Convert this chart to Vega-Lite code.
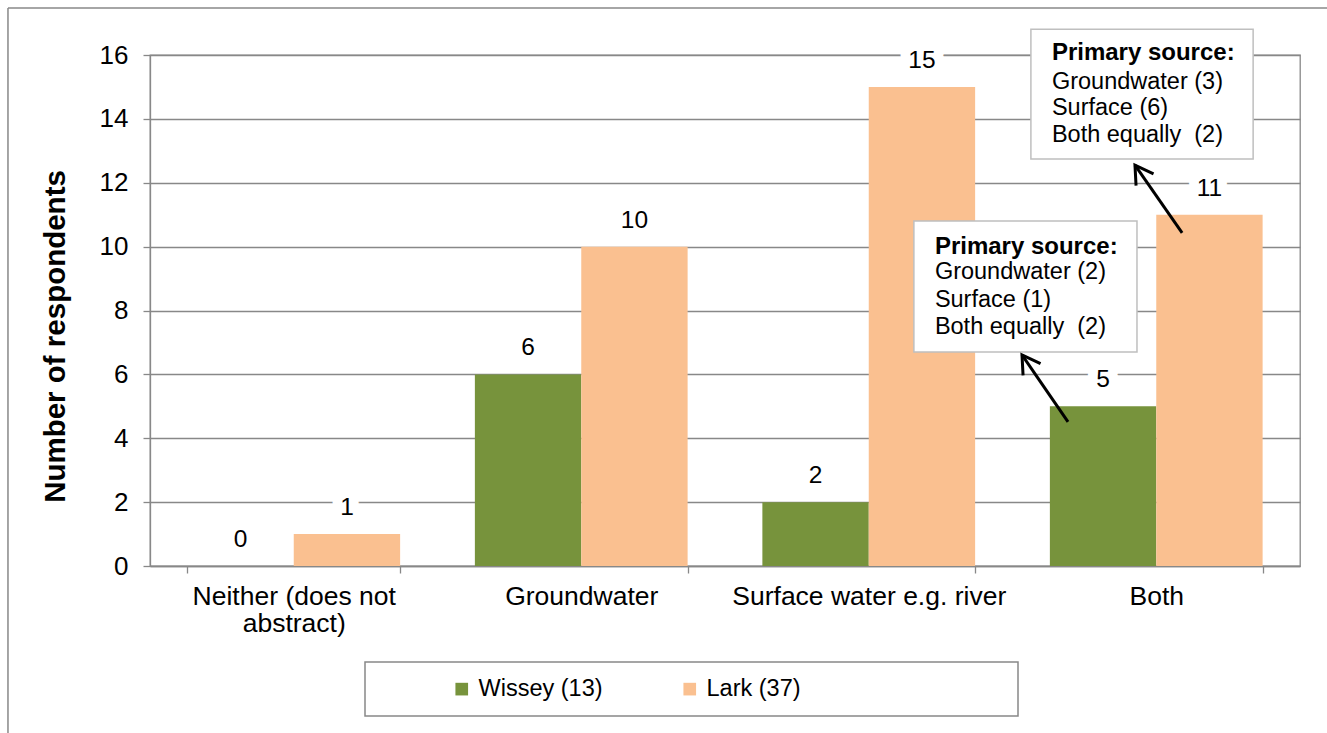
{
  "$schema": "https://vega.github.io/schema/vega-lite/v6.json",
  "width": 1150,
  "height": 511,
  "autosize": {"type": "none"},
  "padding": {"left": 150, "top": 55, "right": 27, "bottom": 167},
  "config": {
    "font": "Liberation Sans",
    "view": {"stroke": "#888888", "strokeWidth": 1.3},
    "axis": {
      "domainColor": "#888888", "tickColor": "#888888", "gridColor": "#888888",
      "domainWidth": 1.3, "tickWidth": 1.3, "gridWidth": 1.3,
      "labelColor": "#000000", "titleColor": "#000000",
      "labelFont": "Liberation Sans", "titleFont": "Liberation Sans"
    },
    "axisY": {
      "tickSize": 7, "labelFontSize": 26, "labelPadding": 15,
      "titleFontSize": 29.5, "titleFontWeight": "bold",
      "titleX": -95, "titleY": 281, "titleAngle": -90,
      "titleBaseline": "middle", "titleAlign": "center"
    },
    "legend": {
      "orient": "none", "legendX": 215, "legendY": 607, "direction": "horizontal",
      "strokeColor": "#888888", "strokeWidth": 1.5, "fillColor": "white",
      "padding": 15, "symbolType": "square", "symbolSize": 160, "symbolStrokeWidth": 0,
      "symbolOffset": 70, "labelFontSize": 23.5, "labelOffset": 5, "columnPadding": 5,
      "labelColor": "#000000", "labelFont": "Liberation Sans", "labelLimit": 600
    }
  },
  "datasets": {
    "bars": [
      {"source": "Neither (does not abstract)", "river": "Wissey (13)", "count": 0},
      {"source": "Neither (does not abstract)", "river": "Lark (37)", "count": 1},
      {"source": "Groundwater", "river": "Wissey (13)", "count": 6},
      {"source": "Groundwater", "river": "Lark (37)", "count": 10},
      {"source": "Surface water e.g. river", "river": "Wissey (13)", "count": 2},
      {"source": "Surface water e.g. river", "river": "Lark (37)", "count": 15},
      {"source": "Both", "river": "Wissey (13)", "count": 5},
      {"source": "Both", "river": "Lark (37)", "count": 11}
    ],
    "frame": [
      {"x": -0.494, "x2": -0.494, "y": 17.47, "y2": -5.6},
      {"x": -0.494, "x2": 4.2, "y": 17.47, "y2": 17.47}
    ],
    "boxes": [
      {"x": 3.064, "x2": 3.837, "y": 16.81, "y2": 12.74},
      {"x": 2.657, "x2": 3.433, "y": 10.80, "y2": 6.70}
    ],
    "headers": [
      {"x": 3.137, "y": 16.06, "text": "Primary source:"},
      {"x": 2.730, "y": 9.99, "text": "Primary source:"}
    ],
    "lines": [
      {"x": 3.137, "y": 15.15, "text": "Groundwater (3)"},
      {"x": 3.137, "y": 14.34, "text": "Surface (6)"},
      {"x": 3.137, "y": 13.49, "text": "Both equally\u00a0 (2)"},
      {"x": 2.730, "y": 9.20, "text": "Groundwater (2)"},
      {"x": 2.730, "y": 8.33, "text": "Surface (1)"},
      {"x": 2.730, "y": 7.48, "text": "Both equally\u00a0 (2)"}
    ],
    "arrows": [
      {"arrow": "a", "x": 3.590, "y": 10.43},
      {"arrow": "a", "x": 3.426, "y": 12.55},
      {"arrow": "b", "x": 3.193, "y": 4.51},
      {"arrow": "b", "x": 3.033, "y": 6.61}
    ],
    "heads": [
      {"x": 3.426, "y": 12.55},
      {"x": 3.033, "y": 6.61}
    ]
  },
  "layer": [
    {
      "data": {"name": "bars"},
      "encoding": {
        "x": {
          "field": "source", "type": "nominal", "title": null,
          "sort": ["Neither (does not abstract)", "Groundwater", "Surface water e.g. river", "Both"],
          "scale": {"paddingInner": 0.26, "paddingOuter": 0.13},
          "axis": {
            "labelAngle": 0, "tickBand": "extent", "tickSize": 7, "labelFontSize": 26.5,
            "labelPadding": 10, "labelLineHeight": 27, "labelLimit": 500, "grid": false,
            "labelExpr": "datum.label == 'Neither (does not abstract)' ? ['Neither (does not', 'abstract)'] : datum.label"
          }
        },
        "xOffset": {"field": "river", "type": "nominal", "sort": ["Wissey (13)", "Lark (37)"]},
        "y": {
          "field": "count", "type": "quantitative", "title": "Number of respondents",
          "scale": {"domain": [0, 16], "nice": false},
          "axis": {"values": [0, 2, 4, 6, 8, 10, 12, 14, 16], "grid": true}
        }
      },
      "layer": [
        {
          "mark": {"type": "bar"},
          "encoding": {
            "color": {
              "field": "river", "type": "nominal",
              "scale": {"domain": ["Wissey (13)", "Lark (37)"], "range": ["#77933C", "#FAC090"]},
              "legend": {
                "title": null,
                "labelExpr": "datum.label == 'Lark (37)' ? 'Lark (37)' + '                               \u200b' : datum.label"
              }
            }
          }
        },
        {
          "mark": {"type": "text", "fontSize": 24.5, "baseline": "alphabetic", "dy": -19,
                   "stroke": "white", "strokeWidth": 20, "strokeJoin": "round", "fill": "white"},
          "encoding": {"text": {"field": "count", "type": "quantitative"}}
        },
        {
          "mark": {"type": "text", "fontSize": 24.5, "baseline": "alphabetic", "dy": -19, "color": "#000000"},
          "encoding": {"text": {"field": "count", "type": "quantitative"}}
        }
      ]
    },
    {
      "layer": [
        {
          "data": {"name": "frame"},
          "mark": {"type": "rule", "color": "#888888", "strokeWidth": 1.5},
          "encoding": {
            "x": {"field": "x", "type": "quantitative", "scale": {"domain": [0, 4], "nice": false, "zero": false}, "axis": null},
            "x2": {"field": "x2"},
            "y": {"field": "y", "type": "quantitative", "title": "Number of respondents", "scale": {"domain": [0, 16], "nice": false}},
            "y2": {"field": "y2"}
          }
        },
        {
          "data": {"name": "boxes"},
          "mark": {"type": "rect", "fill": "white", "stroke": "#BFBFBF", "strokeWidth": 1.5},
          "encoding": {
            "x": {"field": "x", "type": "quantitative", "scale": {"domain": [0, 4], "nice": false, "zero": false}, "axis": null},
            "x2": {"field": "x2"},
            "y": {"field": "y", "type": "quantitative", "title": "Number of respondents", "scale": {"domain": [0, 16], "nice": false}},
            "y2": {"field": "y2"}
          }
        },
        {
          "data": {"name": "headers"},
          "mark": {"type": "text", "align": "left", "baseline": "middle", "fontSize": 24, "fontWeight": "bold", "color": "#000000"},
          "encoding": {
            "x": {"field": "x", "type": "quantitative", "scale": {"domain": [0, 4], "nice": false, "zero": false}, "axis": null},
            "y": {"field": "y", "type": "quantitative", "title": "Number of respondents", "scale": {"domain": [0, 16], "nice": false}},
            "text": {"field": "text", "type": "nominal"}
          }
        },
        {
          "data": {"name": "lines"},
          "mark": {"type": "text", "align": "left", "baseline": "middle", "fontSize": 23.5, "color": "#000000"},
          "encoding": {
            "x": {"field": "x", "type": "quantitative", "scale": {"domain": [0, 4], "nice": false, "zero": false}, "axis": null},
            "y": {"field": "y", "type": "quantitative", "title": "Number of respondents", "scale": {"domain": [0, 16], "nice": false}},
            "text": {"field": "text", "type": "nominal"}
          }
        },
        {
          "data": {"name": "arrows"},
          "mark": {"type": "line", "color": "#000000", "strokeWidth": 3},
          "encoding": {
            "x": {"field": "x", "type": "quantitative", "scale": {"domain": [0, 4], "nice": false, "zero": false}, "axis": null},
            "y": {"field": "y", "type": "quantitative", "title": "Number of respondents", "scale": {"domain": [0, 16], "nice": false}},
            "detail": {"field": "arrow", "type": "nominal"}
          }
        },
        {
          "data": {"name": "heads"},
          "mark": {"type": "point", "shape": "M -0.6 1 L 0 0 L 0.6 1", "filled": false, "stroke": "#000000",
                   "strokeWidth": 3, "size": 1060, "angle": -34, "opacity": 1, "strokeCap": "square"},
          "encoding": {
            "x": {"field": "x", "type": "quantitative", "scale": {"domain": [0, 4], "nice": false, "zero": false}, "axis": null},
            "y": {"field": "y", "type": "quantitative", "title": "Number of respondents", "scale": {"domain": [0, 16], "nice": false}}
          }
        }
      ]
    }
  ],
  "resolve": {"scale": {"x": "independent"}}
}
